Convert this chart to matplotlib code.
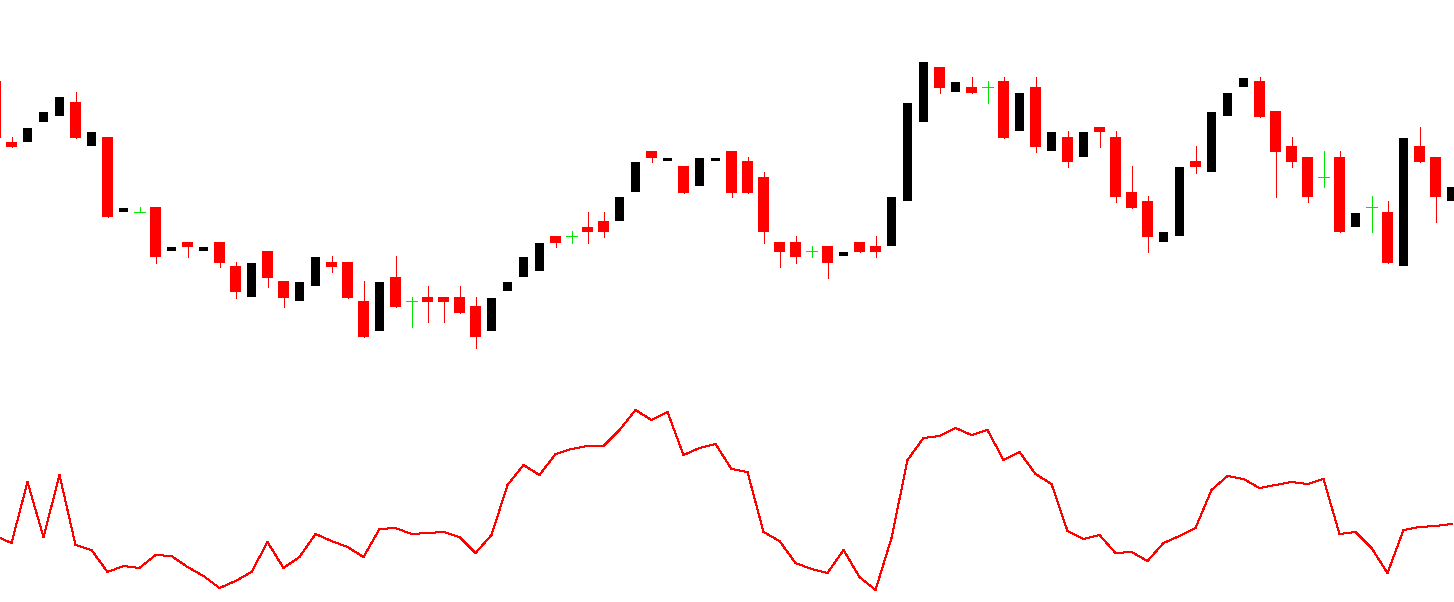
import numpy as np
import matplotlib
matplotlib.use("Agg")
import matplotlib.pyplot as plt

# OHLC per bar, price units
opens = [521, 460, 460, 480, 486, 500, 456, 465, 390, 390, 395, 351, 360, 351, 360, 336,
         305, 351, 321, 301, 316, 340, 340, 301, 271, 325, 301, 305, 305, 305, 296, 271,
         311, 325, 331, 366, 366, 375, 381, 381, 410, 451, 441, 436, 416, 441, 451, 441,
         425, 360, 360, 351, 356, 346, 360, 356, 356, 401, 480, 535, 510, 515, 515, 521,
         471, 515, 451, 465, 445, 475, 465, 410, 401, 360, 366, 441, 430, 486, 515, 521,
         491, 456, 445, 425, 445, 375, 395, 390, 336, 456, 445, 401]
highs = [521, 465, 474, 490, 505, 510, 470, 465, 394, 395, 395, 355, 360, 355, 360, 340,
         339, 351, 321, 320, 345, 346, 340, 321, 320, 346, 305, 316, 305, 316, 305, 304,
         320, 345, 359, 366, 371, 390, 390, 405, 440, 451, 444, 436, 444, 444, 451, 445,
         430, 360, 366, 356, 356, 350, 360, 366, 405, 499, 540, 535, 520, 525, 521, 525,
         509, 525, 470, 471, 470, 475, 471, 436, 406, 370, 435, 456, 490, 509, 524, 525,
         491, 465, 445, 451, 451, 389, 406, 401, 464, 475, 445, 415]
lows = [464, 455, 460, 480, 486, 464, 456, 385, 390, 390, 339, 351, 345, 351, 335, 304,
        305, 315, 295, 301, 316, 330, 304, 265, 271, 295, 275, 280, 280, 289, 254, 271,
        311, 325, 331, 355, 359, 359, 365, 381, 410, 440, 441, 409, 416, 441, 405, 409,
        359, 335, 339, 345, 324, 346, 350, 345, 356, 401, 480, 509, 510, 509, 499, 464,
        471, 450, 451, 435, 445, 455, 400, 394, 350, 360, 366, 429, 430, 486, 515, 485,
        405, 435, 400, 415, 370, 375, 370, 339, 336, 440, 380, 401]
closes = [464, 455, 474, 490, 505, 464, 470, 385, 394, 390, 345, 355, 355, 355, 339, 310,
          339, 324, 304, 320, 345, 335, 304, 265, 320, 295, 301, 300, 300, 289, 265, 304,
          320, 345, 359, 359, 366, 370, 370, 405, 440, 444, 444, 409, 444, 444, 409, 409,
          370, 350, 345, 351, 339, 350, 350, 350, 405, 499, 540, 514, 520, 509, 515, 464,
          509, 455, 470, 440, 470, 470, 405, 394, 365, 370, 435, 435, 490, 509, 524, 485,
          450, 440, 405, 425, 370, 389, 395, 339, 464, 440, 405, 415]

# oscillator below the candles
indicator = [66, 59, 120, 65, 127, 57, 52, 30, 36, 34, 47, 46, 35, 26, 14, 21,
             30, 60, 34, 45, 68, 61, 55, 45, 73, 74, 68, 69, 70, 65, 49, 67,
             117, 137, 127, 148, 153, 156, 156, 172, 192, 182, 190, 147, 154, 158, 133, 130,
             70, 61, 39, 33, 29, 52, 25, 12, 64, 142, 164, 166, 174, 167, 172, 142,
             150, 128, 118, 71, 63, 67, 49, 50, 41, 59, 66, 74, 112, 126, 123, 114,
             117, 120, 118, 123, 68, 70, 54, 29, 72, 75, 76, 78]

UP = "#000000"
DOWN = "#ff0000"
DOJI = "#00e600"
PX = 72 / 100  # one pixel in points


def main():
    fig = plt.figure(figsize=(14.54, 6.02), dpi=100)
    ax = fig.add_axes([0, 0, 1, 1])
    ax.set_axis_off()

    idx = np.arange(len(opens))
    o = np.array(opens); h = np.array(highs); l = np.array(lows); c = np.array(closes)

    up = c > o
    down = c < o
    doji = c == o

    # bull bodies (no wicks shown)
    ax.bar(idx[up], (c - o)[up], bottom=o[up], width=9 / 16, color=UP,
           linewidth=0, antialiased=False)
    # bear bodies + wicks
    ax.vlines(idx[down], l[down], h[down], color=DOWN, lw=PX, antialiased=False)
    ax.bar(idx[down], (o - c)[down], bottom=c[down], width=11 / 16, color=DOWN,
           linewidth=0, antialiased=False)
    # doji crosses
    ax.vlines(idx[doji], l[doji], h[doji], color=DOJI, lw=PX, antialiased=False)
    ax.hlines(o[doji], idx[doji] - 5.5 / 16, idx[doji] + 5.5 / 16, color=DOJI,
              lw=PX, antialiased=False)

    ax.plot(idx, indicator, color=DOWN, lw=PX, antialiased=False)

    ax.set_xlim(4.5 / 16, (1454 + 4.5) / 16)
    ax.set_ylim(0, 602)

    fig.savefig("out.png", dpi=100, facecolor="white")
    plt.close(fig)


if __name__ == '__main__':
    main()
